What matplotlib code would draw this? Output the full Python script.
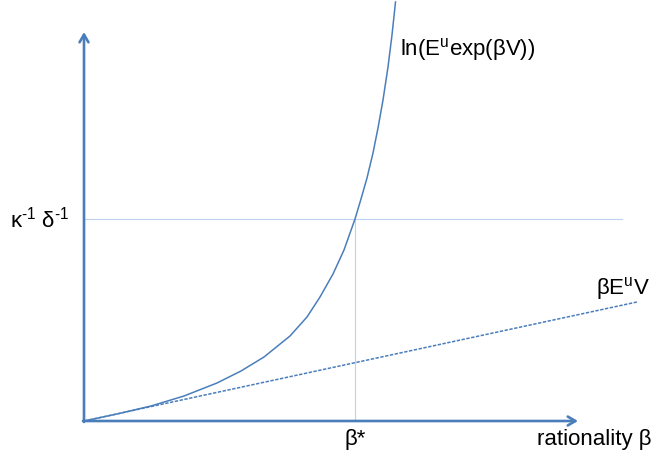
import matplotlib.pyplot as plt

plt.rcParams['font.family'] = ['Liberation Sans', 'DejaVu Sans']
plt.rcParams['mathtext.fontset'] = 'custom'
plt.rcParams['mathtext.rm'] = 'Liberation Sans'
plt.rcParams['mathtext.it'] = 'Liberation Sans'
plt.rcParams['mathtext.default'] = 'regular'

BLUE = '#4a7ebb'
LIGHT = '#bcd2ee'

# --- values (arbitrary units) ---
beta = [0, 0.33, 0.67, 1.00, 1.33, 1.57, 1.80, 2.06, 2.23, 2.36, 2.49,
        2.60, 2.71, 2.77, 2.83, 2.89, 2.94, 2.99, 3.04, 3.08, 3.115]
log_exp = [0, 0.07, 0.15, 0.25, 0.38, 0.50, 0.64, 0.85, 1.04, 1.24, 1.47,
           1.71, 2.02, 2.22, 2.43, 2.68, 2.93, 3.21, 3.54, 3.86, 4.19]
lin_beta = [0, 5.53]
lin_val = [0, 1.19]

threshold = 2.02      # kappa^-1 delta^-1
beta_star = 2.71
x_axis_end = 4.94
y_axis_end = 3.89
h_line_end = 5.38

fig = plt.figure(figsize=(6.58, 4.64), dpi=100)
ax = fig.add_axes([0, 0, 1, 1])
ax.set_xlim(-0.84, 5.74)
ax.set_ylim(-0.42, 4.22)
ax.axis('off')

# guide lines
ax.plot([0, h_line_end], [threshold, threshold], color=LIGHT, lw=0.8)
ax.plot([beta_star, beta_star], [0, threshold], color=LIGHT, lw=0.8)

# curves
ax.plot(lin_beta, lin_val, color=BLUE, lw=1.1, ls=(0, (2.2, 1.0)))
ax.plot(beta, log_exp, color=BLUE, lw=1.1, solid_joinstyle='round')

# axes with arrows
arrow = dict(arrowstyle='->,head_length=0.55,head_width=0.32', color=BLUE, lw=1.9,
             shrinkA=0, shrinkB=0)
ax.annotate('', xy=(x_axis_end, 0), xytext=(-0.01, 0), arrowprops=arrow)
ax.annotate('', xy=(0, y_axis_end), xytext=(0, -0.01), arrowprops=arrow)

fs = 16
ax.text(-0.74, threshold, r'κ$^{\text{-}1}$ δ$^{\text{-}1}$', fontsize=fs,
        ha='left', va='center')
ax.text(beta_star, -0.18, 'β*', fontsize=fs, ha='center', va='center')
ax.text(4.53, -0.18, 'rationality β', fontsize=fs, ha='left', va='center')
ax.text(3.16, 3.72, r'$ln(E^{u}exp(βV))$', fontsize=fs, ha='left', va='center')
ax.text(5.12, 1.34, r'$βE^{u}V$', fontsize=fs, ha='left', va='center')

fig.savefig('out.png', dpi=100)
